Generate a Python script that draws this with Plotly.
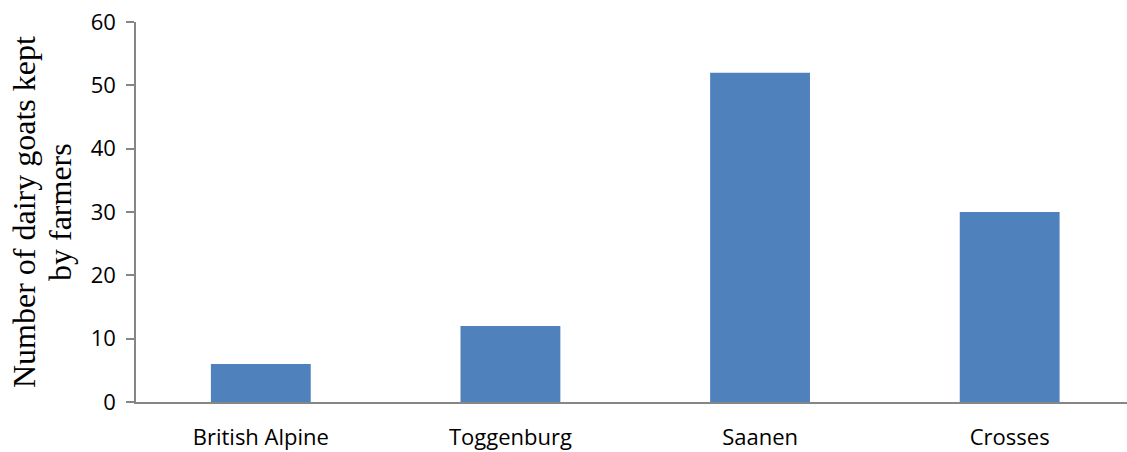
import plotly.graph_objects as go

breeds = ["British Alpine", "Toggenburg", "Saanen", "Crosses"]
goats = [6, 12, 52, 30]
y_ticks = [0, 10, 20, 30, 40, 50, 60]
y_title_lines = ["Number of dairy goats kept", "by farmers"]

tick_font = dict(family="Open Sans", size=22, color="black")
title_font = dict(family="Liberation Serif", size=32, color="black")

fig = go.Figure(
    go.Bar(
        x=list(range(len(breeds))),
        y=goats,
        width=0.4,
        marker=dict(color="#4F81BD", line=dict(width=0)),
    )
)

fig.update_layout(
    width=1127,
    height=452,
    margin=dict(l=136, r=0, t=22, b=50),
    paper_bgcolor="white",
    plot_bgcolor="white",
    showlegend=False,
    font=tick_font,
)

fig.update_xaxes(
    tickmode="array",
    tickvals=list(range(len(breeds))),
    ticktext=breeds,
    tickfont=tick_font,
    range=[-0.5, 3.47],
    showline=True,
    linecolor="#868686",
    linewidth=1.5,
    ticks="",
    ticklabelstandoff=15,
    showgrid=False,
    zeroline=False,
    automargin=False,
)

fig.update_yaxes(
    range=[0, 60],
    tickvals=y_ticks,
    tickfont=tick_font,
    showline=True,
    linecolor="#868686",
    linewidth=1.5,
    ticks="outside",
    ticklen=8,
    tickwidth=1.5,
    tickcolor="#868686",
    ticklabelstandoff=6,
    showgrid=False,
    zeroline=False,
    automargin=False,
)

# Two-line rotated axis title, placed as separate lines for tighter leading
for line, xpos in zip(y_title_lines, [-0.113, -0.0767]):
    fig.add_annotation(
        text=line,
        textangle=-90,
        xref="paper",
        yref="paper",
        x=xpos,
        y=0.5,
        xanchor="center",
        yanchor="middle",
        showarrow=False,
        font=title_font,
    )

fig.write_html("out.html")
